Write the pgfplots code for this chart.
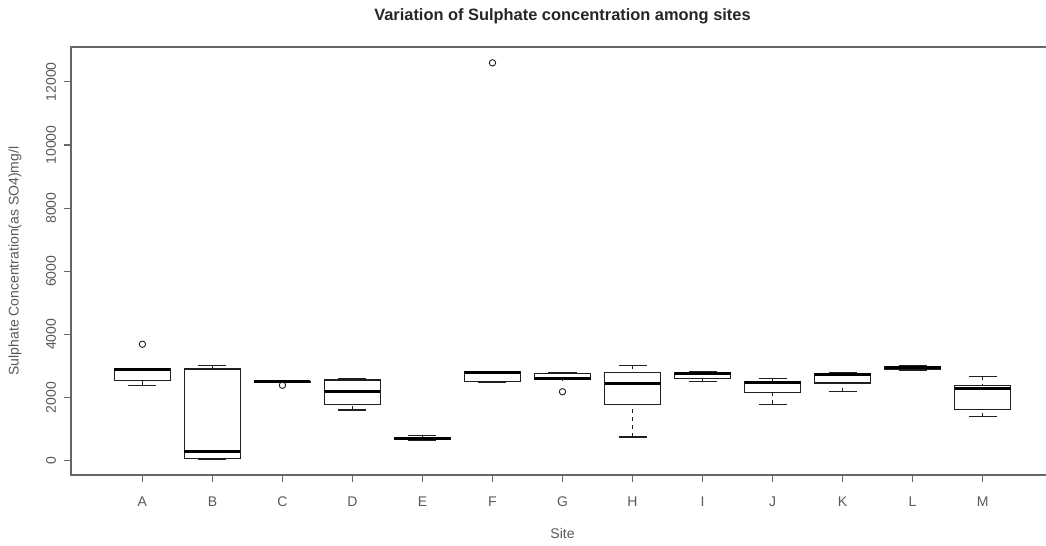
\documentclass[border=0pt]{standalone}
\usepackage{pgfplots}
\pgfplotsset{compat=1.18}
\usepgfplotslibrary{statistics}
\usepackage{fontspec}
\setmainfont{Liberation Sans}
\setsansfont{Liberation Sans}
\definecolor{boxc}{gray}{0.12}
\begin{document}
\begin{tikzpicture}
\useasboundingbox (0,0) rectangle (523pt,273pt);
\clip (0,0) rectangle (523pt,273pt);
\begin{axis}[
  at={(35.5pt,35.5pt)}, anchor=south west,
  scale only axis, width=491.5pt, height=214pt,
  xmin=-0.02, xmax=14.02, ymin=-452, ymax=13102,
  xtick={1,...,13}, xticklabels={A,B,C,D,E,F,G,H,I,J,K,L,M},
  ytick={0,2000,4000,6000,8000,10000,12000},
  scaled y ticks=false,
  yticklabel={\pgfmathprintnumber[fixed,1000 sep={}]{\tick}},
  /pgf/number format/assume math mode=true,
  tick pos=left, tick align=outside, major tick length=3.5pt,
  axis line style={black!60, line width=0.7pt},
  every tick/.style={black!60, line width=0.6pt},
  ticklabel style={font=\fontsize{7}{8}\selectfont, text=black!65},
  xticklabel style={anchor=center, yshift=-10pt},
  yticklabel style={xshift=-6.5pt, rotate=90, anchor=center},
  clip=false,
  boxplot/draw direction=y,
  boxplot/every box/.style={draw=boxc, line width=0.55pt},
  boxplot/every median/.style={draw=black, line width=1.5pt},
  boxplot/box extend=0.8,
  boxplot/whisker extend=0.4,
  boxplot/draw/lower whisker/.code={
    \draw[boxc, line width=0.55pt, dash pattern=on 2pt off 2pt]
      (boxplot cs:\pgfplotsboxplotvalue{lower whisker}) -- (boxplot cs:\pgfplotsboxplotvalue{lower quartile});
    \draw[boxc, line width=0.55pt]
      (boxplot whisker cs:\pgfplotsboxplotvalue{lower whisker},0) -- (boxplot whisker cs:\pgfplotsboxplotvalue{lower whisker},1);
  },
  boxplot/draw/upper whisker/.code={
    \draw[boxc, line width=0.55pt, dash pattern=on 2pt off 2pt]
      (boxplot cs:\pgfplotsboxplotvalue{upper whisker}) -- (boxplot cs:\pgfplotsboxplotvalue{upper quartile});
    \draw[boxc, line width=0.55pt]
      (boxplot whisker cs:\pgfplotsboxplotvalue{upper whisker},0) -- (boxplot whisker cs:\pgfplotsboxplotvalue{upper whisker},1);
  },
  every axis plot/.append style={draw=boxc, mark=o, mark size=1.6pt, mark options={solid, line width=0.45pt, draw=boxc}},
]
% A
\addplot[boxplot prepared={draw position=1, lower whisker=2385, lower quartile=2540, median=2880, upper quartile=2905, upper whisker=2910}] table[row sep=\\, y index=0] {v\\ 3690\\};
% B
\addplot[boxplot prepared={draw position=2, lower whisker=40, lower quartile=75, median=290, upper quartile=2905, upper whisker=3020}] coordinates {};
% C
\addplot[boxplot prepared={draw position=3, lower whisker=2480, lower quartile=2490, median=2500, upper quartile=2510, upper whisker=2520}] table[row sep=\\, y index=0] {v\\ 2390\\};
% D
\addplot[boxplot prepared={draw position=4, lower whisker=1605, lower quartile=1773, median=2185, upper quartile=2555, upper whisker=2607}] coordinates {};
% E
\addplot[boxplot prepared={draw position=5, lower whisker=640, lower quartile=660, median=700, upper quartile=730, upper whisker=800}] coordinates {};
% F
\addplot[boxplot prepared={draw position=6, lower whisker=2490, lower quartile=2500, median=2790, upper quartile=2820, upper whisker=2830}] table[row sep=\\, y index=0] {v\\ 12600\\};
% G
\addplot[boxplot prepared={draw position=7, lower whisker=2565, lower quartile=2570, median=2600, upper quartile=2776, upper whisker=2785}] table[row sep=\\, y index=0] {v\\ 2185\\};
% H
\addplot[boxplot prepared={draw position=8, lower whisker=750, lower quartile=1784, median=2460, upper quartile=2787, upper whisker=3018}] coordinates {};
% I
\addplot[boxplot prepared={draw position=9, lower whisker=2500, lower quartile=2600, median=2770, upper quartile=2805, upper whisker=2810}] coordinates {};
% J
\addplot[boxplot prepared={draw position=10, lower whisker=1783, lower quartile=2163, median=2480, upper quartile=2512, upper whisker=2607}] coordinates {};
% K
\addplot[boxplot prepared={draw position=11, lower whisker=2185, lower quartile=2460, median=2740, upper quartile=2765, upper whisker=2787}] coordinates {};
% L
\addplot[boxplot prepared={draw position=12, lower whisker=2850, lower quartile=2890, median=2950, upper quartile=2990, upper whisker=3000}] coordinates {};
% M
\addplot[boxplot prepared={draw position=13, lower whisker=1393, lower quartile=1625, median=2302, upper quartile=2385, upper whisker=2670}] coordinates {};
\node[anchor=base, yshift=13pt, font=\bfseries\fontsize{8.2}{9}\selectfont, text=black!85] at (rel axis cs:0.5,1) {Variation of Sulphate concentration among sites};
\node[anchor=base, yshift=-32pt, font=\fontsize{7}{8}\selectfont, text=black!65] at (rel axis cs:0.5,0) {Site};
\node[xshift=-28pt, rotate=90, anchor=center, font=\fontsize{7}{8}\selectfont, text=black!65] at (rel axis cs:0,0.5) {Sulphate Concentration(as SO4)mg/l};
\end{axis}
\end{tikzpicture}
\end{document}
